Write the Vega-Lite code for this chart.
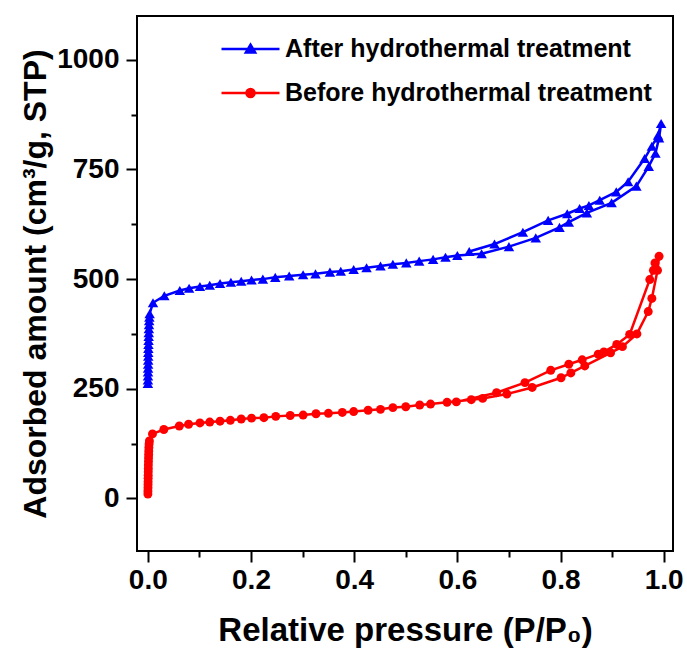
{
  "$schema": "https://vega.github.io/schema/vega-lite/v6.json",
  "width": 536,
  "height": 535,
  "autosize": {"type": "none"},
  "padding": {"left": 137, "top": 16, "right": 14, "bottom": 107},
  "background": "white",
  "config": {"view": {"stroke": "black", "strokeWidth": 2}, "font": "Liberation Sans"},
  "data": {"values": [
    {"series":"After hydrothermal treatment","i":1,"p":0.0001,"v":262},
    {"series":"After hydrothermal treatment","i":2,"p":0.0002,"v":270},
    {"series":"After hydrothermal treatment","i":3,"p":0.0003,"v":279},
    {"series":"After hydrothermal treatment","i":4,"p":0.0004,"v":288},
    {"series":"After hydrothermal treatment","i":5,"p":0.0005,"v":297},
    {"series":"After hydrothermal treatment","i":6,"p":0.0006,"v":306},
    {"series":"After hydrothermal treatment","i":7,"p":0.0007,"v":315},
    {"series":"After hydrothermal treatment","i":8,"p":0.0008,"v":324},
    {"series":"After hydrothermal treatment","i":9,"p":0.0009,"v":333},
    {"series":"After hydrothermal treatment","i":10,"p":0.001,"v":342},
    {"series":"After hydrothermal treatment","i":11,"p":0.0012,"v":351},
    {"series":"After hydrothermal treatment","i":12,"p":0.0014,"v":360},
    {"series":"After hydrothermal treatment","i":13,"p":0.0016,"v":369},
    {"series":"After hydrothermal treatment","i":14,"p":0.0018,"v":378},
    {"series":"After hydrothermal treatment","i":15,"p":0.002,"v":387},
    {"series":"After hydrothermal treatment","i":16,"p":0.0023,"v":396},
    {"series":"After hydrothermal treatment","i":17,"p":0.0026,"v":405},
    {"series":"After hydrothermal treatment","i":18,"p":0.003,"v":413},
    {"series":"After hydrothermal treatment","i":19,"p":0.0035,"v":421},
    {"series":"After hydrothermal treatment","i":20,"p":0.010,"v":446},
    {"series":"After hydrothermal treatment","i":21,"p":0.032,"v":462},
    {"series":"After hydrothermal treatment","i":22,"p":0.062,"v":474},
    {"series":"After hydrothermal treatment","i":23,"p":0.080,"v":479},
    {"series":"After hydrothermal treatment","i":24,"p":0.101,"v":483},
    {"series":"After hydrothermal treatment","i":25,"p":0.120,"v":486},
    {"series":"After hydrothermal treatment","i":26,"p":0.140,"v":490},
    {"series":"After hydrothermal treatment","i":27,"p":0.161,"v":493},
    {"series":"After hydrothermal treatment","i":28,"p":0.181,"v":495},
    {"series":"After hydrothermal treatment","i":29,"p":0.201,"v":498},
    {"series":"After hydrothermal treatment","i":30,"p":0.223,"v":500},
    {"series":"After hydrothermal treatment","i":31,"p":0.247,"v":504},
    {"series":"After hydrothermal treatment","i":32,"p":0.274,"v":507},
    {"series":"After hydrothermal treatment","i":33,"p":0.301,"v":510},
    {"series":"After hydrothermal treatment","i":34,"p":0.325,"v":512},
    {"series":"After hydrothermal treatment","i":35,"p":0.353,"v":516},
    {"series":"After hydrothermal treatment","i":36,"p":0.374,"v":518},
    {"series":"After hydrothermal treatment","i":37,"p":0.399,"v":522},
    {"series":"After hydrothermal treatment","i":38,"p":0.424,"v":526},
    {"series":"After hydrothermal treatment","i":39,"p":0.451,"v":530},
    {"series":"After hydrothermal treatment","i":40,"p":0.475,"v":534},
    {"series":"After hydrothermal treatment","i":41,"p":0.501,"v":537},
    {"series":"After hydrothermal treatment","i":42,"p":0.526,"v":541},
    {"series":"After hydrothermal treatment","i":43,"p":0.553,"v":545},
    {"series":"After hydrothermal treatment","i":44,"p":0.577,"v":550},
    {"series":"After hydrothermal treatment","i":45,"p":0.600,"v":554},
    {"series":"After hydrothermal treatment","i":46,"p":0.647,"v":558},
    {"series":"After hydrothermal treatment","i":47,"p":0.700,"v":574},
    {"series":"After hydrothermal treatment","i":48,"p":0.752,"v":594},
    {"series":"After hydrothermal treatment","i":49,"p":0.798,"v":618},
    {"series":"After hydrothermal treatment","i":50,"p":0.816,"v":630},
    {"series":"After hydrothermal treatment","i":51,"p":0.851,"v":651},
    {"series":"After hydrothermal treatment","i":52,"p":0.899,"v":674},
    {"series":"After hydrothermal treatment","i":53,"p":0.947,"v":712},
    {"series":"After hydrothermal treatment","i":54,"p":0.971,"v":757},
    {"series":"After hydrothermal treatment","i":55,"p":0.984,"v":787},
    {"series":"After hydrothermal treatment","i":56,"p":0.991,"v":822},
    {"series":"After hydrothermal treatment","i":57,"p":0.995,"v":855},
    {"series":"After hydrothermal treatment","i":58,"p":0.989,"v":828},
    {"series":"After hydrothermal treatment","i":59,"p":0.977,"v":803},
    {"series":"After hydrothermal treatment","i":60,"p":0.963,"v":775},
    {"series":"After hydrothermal treatment","i":61,"p":0.931,"v":722},
    {"series":"After hydrothermal treatment","i":62,"p":0.908,"v":699},
    {"series":"After hydrothermal treatment","i":63,"p":0.876,"v":680},
    {"series":"After hydrothermal treatment","i":64,"p":0.855,"v":668},
    {"series":"After hydrothermal treatment","i":65,"p":0.837,"v":661},
    {"series":"After hydrothermal treatment","i":66,"p":0.813,"v":649},
    {"series":"After hydrothermal treatment","i":67,"p":0.776,"v":634},
    {"series":"After hydrothermal treatment","i":68,"p":0.727,"v":607},
    {"series":"After hydrothermal treatment","i":69,"p":0.672,"v":580},
    {"series":"After hydrothermal treatment","i":70,"p":0.623,"v":563},
    {"series":"Before hydrothermal treatment","i":1,"p":0.0001,"v":10},
    {"series":"Before hydrothermal treatment","i":2,"p":0.0002,"v":17},
    {"series":"Before hydrothermal treatment","i":3,"p":0.0003,"v":24},
    {"series":"Before hydrothermal treatment","i":4,"p":0.0004,"v":31},
    {"series":"Before hydrothermal treatment","i":5,"p":0.0005,"v":38},
    {"series":"Before hydrothermal treatment","i":6,"p":0.0006,"v":46},
    {"series":"Before hydrothermal treatment","i":7,"p":0.0007,"v":53},
    {"series":"Before hydrothermal treatment","i":8,"p":0.0008,"v":61},
    {"series":"Before hydrothermal treatment","i":9,"p":0.0009,"v":68},
    {"series":"Before hydrothermal treatment","i":10,"p":0.001,"v":76},
    {"series":"Before hydrothermal treatment","i":11,"p":0.0012,"v":84},
    {"series":"Before hydrothermal treatment","i":12,"p":0.0014,"v":92},
    {"series":"Before hydrothermal treatment","i":13,"p":0.0016,"v":100},
    {"series":"Before hydrothermal treatment","i":14,"p":0.0018,"v":108},
    {"series":"Before hydrothermal treatment","i":15,"p":0.002,"v":116},
    {"series":"Before hydrothermal treatment","i":16,"p":0.0024,"v":124},
    {"series":"Before hydrothermal treatment","i":17,"p":0.003,"v":131},
    {"series":"Before hydrothermal treatment","i":18,"p":0.009,"v":147},
    {"series":"Before hydrothermal treatment","i":19,"p":0.031,"v":157},
    {"series":"Before hydrothermal treatment","i":20,"p":0.061,"v":165},
    {"series":"Before hydrothermal treatment","i":21,"p":0.079,"v":169},
    {"series":"Before hydrothermal treatment","i":22,"p":0.101,"v":172},
    {"series":"Before hydrothermal treatment","i":23,"p":0.120,"v":174},
    {"series":"Before hydrothermal treatment","i":24,"p":0.140,"v":176},
    {"series":"Before hydrothermal treatment","i":25,"p":0.160,"v":178},
    {"series":"Before hydrothermal treatment","i":26,"p":0.181,"v":181},
    {"series":"Before hydrothermal treatment","i":27,"p":0.201,"v":183},
    {"series":"Before hydrothermal treatment","i":28,"p":0.225,"v":184},
    {"series":"Before hydrothermal treatment","i":29,"p":0.248,"v":187},
    {"series":"Before hydrothermal treatment","i":30,"p":0.276,"v":189},
    {"series":"Before hydrothermal treatment","i":31,"p":0.301,"v":190},
    {"series":"Before hydrothermal treatment","i":32,"p":0.326,"v":193},
    {"series":"Before hydrothermal treatment","i":33,"p":0.350,"v":194},
    {"series":"Before hydrothermal treatment","i":34,"p":0.377,"v":196},
    {"series":"Before hydrothermal treatment","i":35,"p":0.399,"v":198},
    {"series":"Before hydrothermal treatment","i":36,"p":0.427,"v":201},
    {"series":"Before hydrothermal treatment","i":37,"p":0.451,"v":203},
    {"series":"Before hydrothermal treatment","i":38,"p":0.475,"v":207},
    {"series":"Before hydrothermal treatment","i":39,"p":0.500,"v":209},
    {"series":"Before hydrothermal treatment","i":40,"p":0.527,"v":213},
    {"series":"Before hydrothermal treatment","i":41,"p":0.548,"v":215},
    {"series":"Before hydrothermal treatment","i":42,"p":0.580,"v":219},
    {"series":"Before hydrothermal treatment","i":43,"p":0.627,"v":225},
    {"series":"Before hydrothermal treatment","i":44,"p":0.649,"v":228},
    {"series":"Before hydrothermal treatment","i":45,"p":0.696,"v":238},
    {"series":"Before hydrothermal treatment","i":46,"p":0.745,"v":253},
    {"series":"Before hydrothermal treatment","i":47,"p":0.801,"v":275},
    {"series":"Before hydrothermal treatment","i":48,"p":0.820,"v":286},
    {"series":"Before hydrothermal treatment","i":49,"p":0.847,"v":302},
    {"series":"Before hydrothermal treatment","i":50,"p":0.897,"v":332},
    {"series":"Before hydrothermal treatment","i":51,"p":0.920,"v":346},
    {"series":"Before hydrothermal treatment","i":52,"p":0.948,"v":375},
    {"series":"Before hydrothermal treatment","i":53,"p":0.970,"v":426},
    {"series":"Before hydrothermal treatment","i":54,"p":0.977,"v":456},
    {"series":"Before hydrothermal treatment","i":55,"p":0.988,"v":520},
    {"series":"Before hydrothermal treatment","i":56,"p":0.991,"v":552},
    {"series":"Before hydrothermal treatment","i":57,"p":0.983,"v":537},
    {"series":"Before hydrothermal treatment","i":58,"p":0.980,"v":520},
    {"series":"Before hydrothermal treatment","i":59,"p":0.973,"v":499},
    {"series":"Before hydrothermal treatment","i":60,"p":0.934,"v":374},
    {"series":"Before hydrothermal treatment","i":61,"p":0.909,"v":351},
    {"series":"Before hydrothermal treatment","i":62,"p":0.884,"v":334},
    {"series":"Before hydrothermal treatment","i":63,"p":0.873,"v":329},
    {"series":"Before hydrothermal treatment","i":64,"p":0.842,"v":316},
    {"series":"Before hydrothermal treatment","i":65,"p":0.816,"v":306},
    {"series":"Before hydrothermal treatment","i":66,"p":0.781,"v":292},
    {"series":"Before hydrothermal treatment","i":67,"p":0.731,"v":264},
    {"series":"Before hydrothermal treatment","i":68,"p":0.676,"v":241},
    {"series":"Before hydrothermal treatment","i":69,"p":0.598,"v":220}
  ]},
  "encoding": {
    "x": {
      "field": "p", "type": "quantitative",
      "scale": {"domain": [-0.021, 1.018], "nice": false, "zero": false},
      "axis": {
        "values": [0, 0.1, 0.2, 0.3, 0.4, 0.5, 0.6, 0.7, 0.8, 0.9, 1.0],
        "labelExpr": "round(datum.value*10) % 2 == 0 ? format(datum.value, '.1f') : ''",
        "tickSize": {"condition": {"test": "round(datum.value*10) % 2 == 0", "value": 11}, "value": 6},
        "tickWidth": 2, "tickColor": "black", "domain": false, "grid": false,
        "labelFont": "Liberation Sans", "labelFontSize": 28, "labelFontWeight": "bold", "labelColor": "black",
        "labelPadding": 4, "labelFlush": false, "labelOverlap": false,
        "title": "Relative pressure (P/P₀)",
        "titleFont": "Liberation Sans", "titleFontSize": 33, "titleFontWeight": "bold", "titleColor": "black",
        "titlePadding": 20
      }
    },
    "y": {
      "field": "v", "type": "quantitative",
      "scale": {"domain": [-120, 1100], "nice": false, "zero": false},
      "axis": {
        "values": [0, 125, 250, 375, 500, 625, 750, 875, 1000],
        "labelExpr": "datum.value % 250 == 0 ? format(datum.value, 'd') : ''",
        "tickSize": {"condition": {"test": "datum.value % 250 == 0", "value": 11}, "value": 6},
        "tickWidth": 2, "tickColor": "black", "domain": false, "grid": false,
        "labelFont": "Liberation Sans", "labelFontSize": 28, "labelFontWeight": "bold", "labelColor": "black",
        "labelPadding": 7, "labelFlush": false, "labelOverlap": false,
        "title": "Adsorbed amount (cm³/g, STP)",
        "titleFont": "Liberation Sans", "titleFontSize": 32, "titleFontWeight": "bold", "titleColor": "black",
        "titlePadding": 4
      }
    }
  },
  "layer": [
    {
      "mark": {"type": "line", "strokeWidth": 2.5},
      "encoding": {
        "order": {"field": "i", "type": "quantitative"},
        "color": {
          "field": "series", "type": "nominal",
          "scale": {"domain": ["After hydrothermal treatment", "Before hydrothermal treatment"], "range": ["#0000ff", "#ff0000"]},
          "legend": {
            "title": null, "orient": "none", "legendX": 83, "legendY": 22, "padding": 0,
            "labelFont": "Liberation Sans", "labelFontSize": 25, "labelFontWeight": "bold", "labelColor": "black",
            "labelLimit": 0,
            "symbolSize": 3364, "symbolStrokeWidth": 2.5, "clipHeight": 22, "rowPadding": 19, "labelOffset": 4,
            "encode": {
              "symbols": {
                "update": {
                  "shape": {"signal": "datum.value == 'After hydrothermal treatment' ? 'M-1,0H1M0,-0.15L0.16,0.12L-0.16,0.12Z' : 'M-1,0H1M0.14,0A0.14,0.14,0,1,1,-0.14,0A0.14,0.14,0,1,1,0.14,0'"},
                  "fill": {"signal": "scale('color', datum.value)"},
                  "stroke": {"signal": "scale('color', datum.value)"},
                  "opacity": {"value": 1}
                }
              }
            }
          }
        }
      }
    },
    {
      "transform": [{"filter": "datum.series == 'After hydrothermal treatment'"}],
      "mark": {"type": "point", "filled": true, "opacity": 1, "shape": "triangle-up", "size": 110, "color": "#0000ff"}
    },
    {
      "transform": [{"filter": "datum.series == 'Before hydrothermal treatment'"}],
      "mark": {"type": "point", "filled": true, "opacity": 1, "shape": "circle", "size": 80, "color": "#ff0000"}
    }
  ]
}
